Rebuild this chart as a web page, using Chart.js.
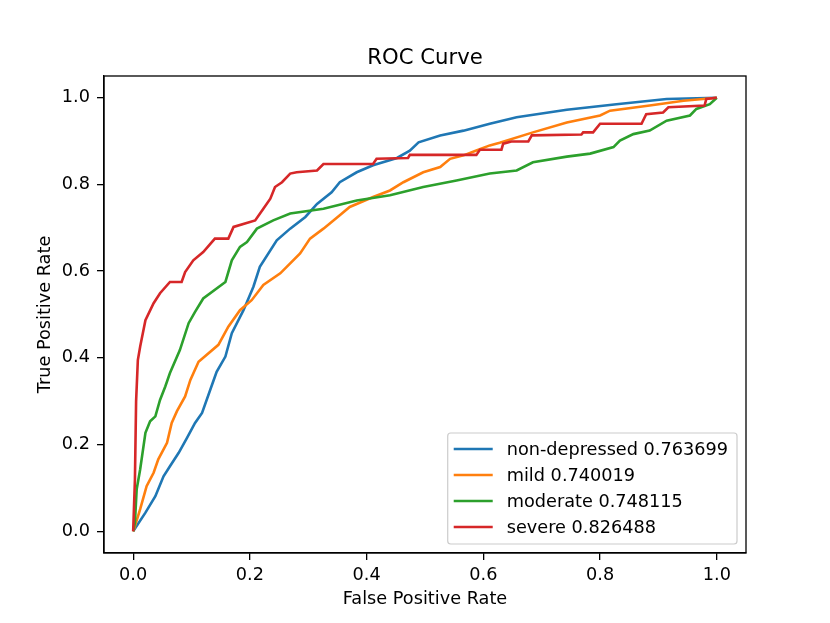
<!DOCTYPE html>
<html>
<head>
<meta charset="utf-8">
<script src="https://cdn.jsdelivr.net/npm/chart.js@4"></script>
<style>
  body { margin: 0; background: #fff; }
  canvas { display: block; }
</style>
</head>
<body>
<canvas id="rocChart" width="830" height="623"></canvas>
<script>
// ROC curve points (false positive rate / true positive rate)
const nonDepFpr = [0, 0.021, 0.038, 0.052, 0.063, 0.078, 0.092, 0.106, 0.118, 0.138, 0.143, 0.158, 0.169, 0.189, 0.206, 0.217, 0.246, 0.269, 0.295, 0.315, 0.34, 0.354, 0.383, 0.411, 0.452, 0.474, 0.489, 0.526, 0.566, 0.611, 0.657, 0.743, 0.828, 0.914, 1];
const nonDepTpr = [0, 0.043, 0.081, 0.127, 0.15, 0.181, 0.215, 0.25, 0.273, 0.349, 0.368, 0.403, 0.457, 0.51, 0.564, 0.61, 0.671, 0.698, 0.725, 0.755, 0.782, 0.805, 0.828, 0.844, 0.861, 0.878, 0.897, 0.913, 0.924, 0.94, 0.955, 0.972, 0.985, 0.997, 1];

const mildFpr = [0, 0.003, 0.012, 0.023, 0.035, 0.043, 0.058, 0.066, 0.075, 0.089, 0.098, 0.112, 0.146, 0.163, 0.183, 0.203, 0.223, 0.252, 0.286, 0.303, 0.326, 0.354, 0.371, 0.411, 0.44, 0.463, 0.497, 0.526, 0.543, 0.566, 0.588, 0.611, 0.628, 0.685, 0.743, 0.8, 0.817, 0.885, 0.943, 1];
const mildTpr = [0, 0.012, 0.051, 0.104, 0.135, 0.166, 0.204, 0.25, 0.277, 0.311, 0.349, 0.391, 0.43, 0.472, 0.51, 0.533, 0.568, 0.595, 0.641, 0.675, 0.698, 0.729, 0.748, 0.771, 0.786, 0.805, 0.828, 0.84, 0.859, 0.867, 0.878, 0.89, 0.896, 0.92, 0.943, 0.959, 0.97, 0.982, 0.993, 1];

const moderateFpr = [0, 0.003, 0.006, 0.012, 0.021, 0.029, 0.038, 0.046, 0.055, 0.063, 0.08, 0.095, 0.106, 0.12, 0.158, 0.169, 0.183, 0.195, 0.212, 0.24, 0.269, 0.326, 0.383, 0.44, 0.497, 0.554, 0.611, 0.657, 0.685, 0.743, 0.783, 0.823, 0.834, 0.857, 0.885, 0.914, 0.954, 0.965, 0.988, 1];
const moderateTpr = [0, 0.02, 0.097, 0.143, 0.227, 0.254, 0.265, 0.303, 0.334, 0.365, 0.418, 0.48, 0.506, 0.537, 0.575, 0.625, 0.656, 0.667, 0.698, 0.717, 0.733, 0.744, 0.763, 0.775, 0.794, 0.809, 0.825, 0.832, 0.851, 0.864, 0.871, 0.886, 0.901, 0.916, 0.924, 0.947, 0.959, 0.974, 0.985, 1];

const severeFpr = [0, 0.003, 0.005, 0.008, 0.012, 0.021, 0.035, 0.046, 0.063, 0.083, 0.089, 0.103, 0.12, 0.14, 0.163, 0.172, 0.209, 0.223, 0.235, 0.243, 0.255, 0.269, 0.28, 0.315, 0.326, 0.411, 0.417, 0.471, 0.474, 0.588, 0.594, 0.631, 0.634, 0.648, 0.677, 0.683, 0.768, 0.771, 0.788, 0.8, 0.871, 0.879, 0.908, 0.917, 0.979, 0.982, 1];
const severeTpr = [0, 0.12, 0.3, 0.395, 0.426, 0.487, 0.526, 0.549, 0.575, 0.575, 0.598, 0.625, 0.644, 0.675, 0.675, 0.702, 0.717, 0.744, 0.767, 0.794, 0.805, 0.825, 0.828, 0.832, 0.847, 0.847, 0.859, 0.861, 0.868, 0.868, 0.88, 0.88, 0.894, 0.899, 0.899, 0.913, 0.915, 0.92, 0.92, 0.94, 0.94, 0.962, 0.966, 0.978, 0.982, 0.997, 1];

const classNames = ["non-depressed", "mild", "moderate", "severe"];
const aucValues = ["0.763699", "0.740019", "0.748115", "0.826488"];
const colors = ["#1f77b4", "#ff7f0e", "#2ca02c", "#d62728"];
const xTicks = [0, 0.2, 0.4, 0.6, 0.8, 1.0];
const yTicks = [0, 0.2, 0.4, 0.6, 0.8, 1.0];

const FONT = "DejaVu Sans";

function pts(xs, ys) {
    return xs.map((x, i) => ({ x: x, y: ys[i] }));
}

const series = [
    pts(nonDepFpr, nonDepTpr),
    pts(mildFpr, mildTpr),
    pts(moderateFpr, moderateTpr),
    pts(severeFpr, severeTpr)
];

// frame, title and matplotlib-style legend
const extras = {
    id: "extras",
    afterDatasetsDraw(chart) {
        const ctx = chart.ctx;
        const a = chart.chartArea;
        ctx.save();
        ctx.strokeStyle = "#000";
        ctx.lineWidth = 1.3;
        ctx.strokeRect(a.left, a.top, a.right - a.left, a.bottom - a.top);

        ctx.fillStyle = "#000";
        ctx.font = "21.2px '" + FONT + "'";
        ctx.textAlign = "center";
        ctx.textBaseline = "alphabetic";
        ctx.fillText("ROC Curve", (a.left + a.right) / 2, 64);

        ctx.font = "17.7px '" + FONT + "'";
        const labels = chart.data.datasets.map(d => d.label);
        const maxW = Math.max(...labels.map(t => ctx.measureText(t).width));
        const w = 6 + 39 + 14 + maxW + 9;
        const h = 111;
        const bx = a.right - 9 - w;
        const by = a.bottom - 9 - h;
        ctx.beginPath();
        ctx.roundRect(bx, by, w, h, 3);
        ctx.fillStyle = "rgba(255,255,255,0.8)";
        ctx.fill();
        ctx.strokeStyle = "#cccccc";
        ctx.lineWidth = 1.2;
        ctx.stroke();

        ctx.textAlign = "left";
        ctx.textBaseline = "middle";
        chart.data.datasets.forEach((d, i) => {
            const y = by + 16 + i * 26;
            ctx.strokeStyle = d.borderColor;
            ctx.lineWidth = 2.6;
            ctx.beginPath();
            ctx.moveTo(bx + 6, y);
            ctx.lineTo(bx + 45, y);
            ctx.stroke();
            ctx.fillStyle = "#000";
            ctx.fillText(d.label, bx + 59, y + 1);
        });
        ctx.restore();
    }
};

new Chart(document.getElementById("rocChart"), {
    type: "scatter",
    data: {
        datasets: series.map((s, i) => ({
            label: classNames[i] + " " + aucValues[i],
            data: s,
            showLine: true,
            borderColor: colors[i],
            backgroundColor: colors[i],
            borderWidth: 2.6,
            pointRadius: 0,
            tension: 0,
            order: series.length - 1 - i
        }))
    },
    options: {
        responsive: false,
        animation: false,
        layout: { padding: { top: 76, right: 84, left: 0, bottom: 0 } },
        plugins: {
            legend: { display: false },
            tooltip: { enabled: false }
        },
        scales: {
            x: {
                type: "linear",
                min: -0.05,
                max: 1.05,
                afterBuildTicks: s => { s.ticks = xTicks.map(v => ({ value: v })); },
                afterFit: s => { s.height = 70; },
                grid: { drawOnChartArea: false, drawTicks: true, tickLength: 7, color: "#000", lineWidth: 1.3 },
                border: { display: true, color: "#000", width: 1.3 },
                ticks: {
                    padding: 5,
                    color: "#000",
                    font: { family: FONT, size: 17.7 },
                    maxRotation: 0,
                    callback: v => v.toFixed(1)
                },
                title: {
                    display: true,
                    text: "False Positive Rate",
                    color: "#000",
                    font: { family: FONT, size: 17.7 },
                    padding: { top: 0, bottom: 13 }
                }
            },
            y: {
                type: "linear",
                min: -0.05,
                max: 1.05,
                afterBuildTicks: s => { s.ticks = yTicks.map(v => ({ value: v })); },
                afterFit: s => { s.width = 104; },
                grid: { drawOnChartArea: false, drawTicks: true, tickLength: 7, color: "#000", lineWidth: 1.3 },
                border: { display: true, color: "#000", width: 1.3 },
                ticks: {
                    padding: 7,
                    color: "#000",
                    font: { family: FONT, size: 17.7 },
                    callback: v => v.toFixed(1)
                },
                title: {
                    display: true,
                    text: "True Positive Rate",
                    color: "#000",
                    font: { family: FONT, size: 17.7 },
                    padding: { top: 35, bottom: 0 }
                }
            }
        }
    },
    plugins: [extras]
});
</script>
</body>
</html>
